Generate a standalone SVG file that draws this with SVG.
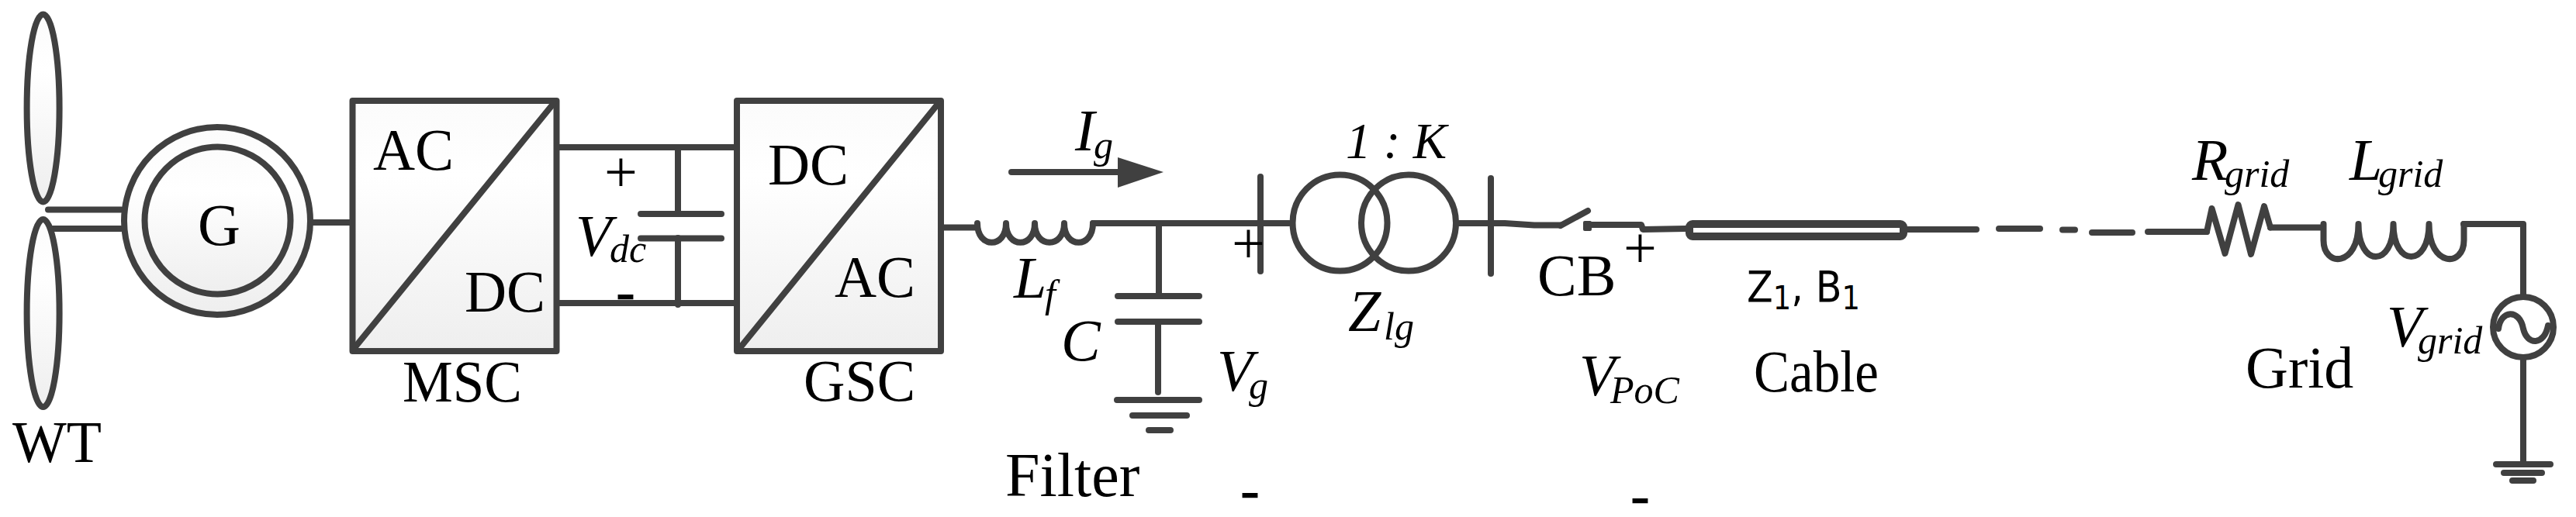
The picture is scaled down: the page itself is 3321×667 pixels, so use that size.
<svg xmlns="http://www.w3.org/2000/svg" width="3321" height="667" viewBox="0 0 3321 667">
<style>
.w{fill:none;stroke:#404040;stroke-width:8;stroke-linecap:round;stroke-linejoin:round}
.b{fill:url(#sh);stroke:#404040;stroke-width:8;stroke-linejoin:round}
.t{font-family:"Liberation Serif","Times New Roman",serif;font-size:76px;fill:#000}
.i{font-style:italic}
.s{font-family:"Liberation Serif","Times New Roman",serif;font-size:50px;font-style:italic;fill:#000}
.m{font-family:"Liberation Serif","Times New Roman",serif;font-size:45px;font-weight:bold;fill:#000;stroke:#000;stroke-width:2.500}
</style>
<defs>
<linearGradient id="sh" x1="0" y1="0" x2="0" y2="1">
<stop offset="0" stop-color="#fbfbfb"/><stop offset="0.3" stop-color="#ffffff"/><stop offset="1" stop-color="#eeeeee"/>
</linearGradient>
</defs>
<rect width="3321" height="667" fill="#fff"/>
<g id="connectors">
<path class="w" d="M62 270.500H156M68 295H156M403 287H452"/>
<path class="w" d="M718 190H949M718 391H949M874 190V276M874 307V393"/>
<path class="w" d="M1208 293.500H1258M1409 288H1662M1494 288V380M1493 415V506"/>
<path class="w" d="M1881 288H1940L1978 290.500H2012M2052 290H2116L2118 296L2173 295"/>
<path class="w" d="M2459 296H2548M2577 295H2630M2659 296.500H2675M2697 300H2749M2769 299H2845M2927 293.500H2993"/>
<path class="w" d="M3176 289H3253V380M3253 464V596"/>
</g>
<g id="wt">
<ellipse class="b" cx="55.600" cy="139.500" rx="21" ry="121"/>
<ellipse class="b" cx="55.600" cy="404" rx="21" ry="121"/>
<text class="t" x="16" y="596" textLength="115" lengthAdjust="spacingAndGlyphs">WT</text>
</g>
<g id="generator">
<ellipse class="b" cx="280" cy="285" rx="120" ry="121"/>
<ellipse class="b" cx="280.500" cy="284.500" rx="94" ry="95"/>
<text class="t" x="255" y="316">G</text>
</g>
<g id="msc">
<rect class="b" x="454.500" y="130" width="263" height="323"/>
<path class="w" d="M714 133L456 450"/>
<text class="t" x="481" y="219" textLength="104" lengthAdjust="spacingAndGlyphs">AC</text>
<text class="t" x="599" y="402" textLength="104" lengthAdjust="spacingAndGlyphs">DC</text>
<text class="t" x="519" y="518" textLength="154" lengthAdjust="spacingAndGlyphs">MSC</text>
</g>
<g id="dc-link">
<path class="w" d="M826 276H930M826 307.500H930"/>
<text class="t" x="779" y="247">+</text>
<text class="t i" x="742" y="330">V</text>
<text class="s" x="786" y="338">dc</text>
<text class="m" x="796" y="394" textLength="21" lengthAdjust="spacingAndGlyphs">-</text>
</g>
<g id="gsc">
<rect class="b" x="950" y="130" width="263" height="323"/>
<path class="w" d="M1210 133L953 450"/>
<text class="t" x="990" y="238" textLength="104" lengthAdjust="spacingAndGlyphs">DC</text>
<text class="t" x="1076" y="383" textLength="104" lengthAdjust="spacingAndGlyphs">AC</text>
<text class="t" x="1036" y="517" textLength="144" lengthAdjust="spacingAndGlyphs">GSC</text>
</g>
<g id="current">
<path class="w" d="M1304 222H1444"/>
<path d="M1441 203L1500 222L1441 242Z" fill="#404040"/>
<text class="t i" x="1386" y="194">I</text>
<text class="s" x="1410" y="204">g</text>
</g>
<g id="lf">
<path class="w" d="M1260 288C1260 321 1297 321 1297 288C1297 321 1334 321 1334 288C1334 321 1372 321 1372 288C1372 321 1409 321 1409 288"/>
<text class="t i" x="1307" y="384">L</text>
<text class="s" x="1347" y="396">f</text>
</g>
<g id="c">
<path class="w" d="M1441 382H1546M1441 415H1546M1440 516H1546M1460 536H1530M1481 555H1509"/>
<text class="t i" x="1368" y="465">C</text>
</g>
<g id="vg">
<path class="w" d="M1625 228V350"/>
<text class="t" x="1588" y="339">+</text>
<text class="t i" x="1569" y="504">V</text>
<text class="s" x="1610" y="514">g</text>
<text class="m" x="1601" y="650" textLength="21" lengthAdjust="spacingAndGlyphs">-</text>
<text class="t" style="font-size:80px" x="1296" y="640">Filter</text>
</g>
<g id="transformer">
<ellipse class="w" cx="1727.500" cy="287.500" rx="61" ry="62"/>
<ellipse class="w" cx="1816" cy="287.500" rx="61" ry="62"/>
<path class="w" d="M1922 230V353"/>
<text class="t i" style="font-size:65px" x="1735" y="204">1 : K</text>
<text class="t i" x="1738" y="427">Z</text>
<text class="s" x="1784" y="438">lg</text>
</g>
<g id="cb">
<path class="w" d="M2012 291L2047 272"/>
<rect x="2041" y="285" width="11" height="13" rx="2" fill="#404040"/>
<text class="t" x="1982" y="381">CB</text>
<text class="t" x="2093" y="345">+</text>
<text class="t i" x="2036" y="510">V</text>
<text class="s" x="2076" y="520">PoC</text>
<text class="m" x="2104" y="657" textLength="21" lengthAdjust="spacingAndGlyphs">-</text>
</g>
<g id="cable">
<rect x="2178" y="289" width="276" height="16" rx="4" fill="#fff" stroke="#404040" stroke-width="10"/>
<text x="2252" y="389" style="font-family:'DejaVu Sans',sans-serif;font-size:56px;fill:#000" textLength="146" lengthAdjust="spacingAndGlyphs">Z<tspan dy="10" font-size="42">1</tspan><tspan dy="-10">, B</tspan><tspan dy="10" font-size="42">1</tspan></text>
<text class="t" x="2261" y="505" textLength="161" lengthAdjust="spacingAndGlyphs">Cable</text>
</g>
<g id="rgrid">
<path class="w" d="M2845 299L2851.500 269L2868.500 327L2885.500 264L2902 328L2919 266L2927 293.500"/>
<text class="t i" x="2826" y="232">R</text>
<text class="s" x="2868" y="241">grid</text>
</g>
<g id="lgrid">
<path class="w" d="M2995.500 289V310C2995.500 345 3040.500 345 3040.500 289C3040.500 345 3085.500 345 3085.500 289C3085.500 345 3131.500 345 3131.500 289C3131.500 345 3176.500 345 3176.500 310V289"/>
<text class="t i" x="3029" y="232">L</text>
<text class="s" x="3066" y="241">grid</text>
</g>
<g id="source">
<ellipse class="w" cx="3253" cy="422" rx="39" ry="39"/>
<path class="w" d="M3221 424C3224 400 3248 398 3253 424C3258 446 3280 446 3285 420"/>
<text class="t i" x="3077" y="447">V</text>
<text class="s" x="3117" y="456">grid</text>
<text class="t" x="2895" y="500">Grid</text>
<path class="w" d="M3218 599H3288M3228 610H3277M3239 620H3266"/>
</g>
</svg>
